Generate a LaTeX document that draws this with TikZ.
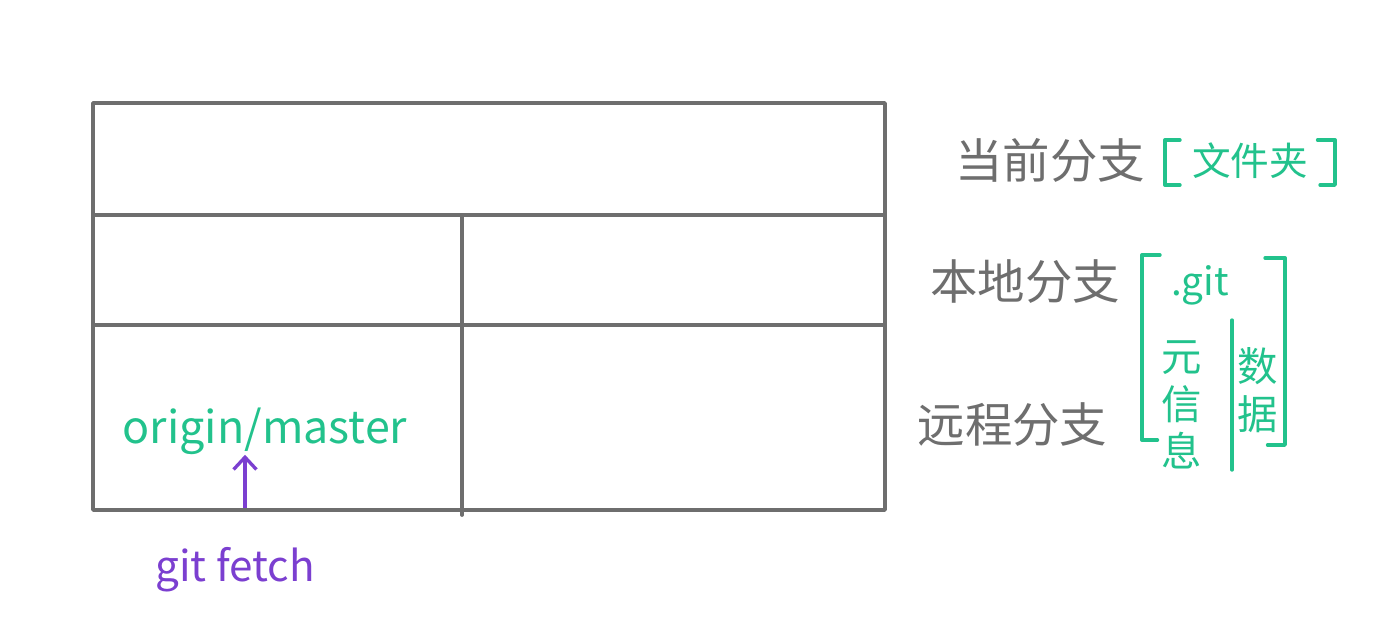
\documentclass[tikz,border=0pt]{standalone}
\usepackage{fontspec}
\setmainfont{Noto Sans CJK SC}
\usetikzlibrary{arrows.meta, positioning}
\definecolor{pen}{HTML}{6E6E6E}
\definecolor{mint}{HTML}{22C28C}
\definecolor{violet}{HTML}{7B3FD0}

\begin{document}
\begin{tikzpicture}[
    grid/.style={draw=pen, line width=2.1pt, line cap=round, line join=round},
    rowlabel/.style={text=pen, font=\fontsize{27}{30}\selectfont, inner sep=0pt},
    note/.style={text=mint, font=\fontsize{22}{24}\selectfont, inner sep=0pt, align=center},
    brk/.style={draw=mint, line width=1.9pt, line cap=round, line join=round},
    arr/.style={-{Straight Barb[length=7pt, width=13pt]}, draw=violet, line width=1.9pt}
]
\useasboundingbox (0,0) rectangle (27.58,-12.6);

% the table
\draw[grid] (1.86,-2.06) rectangle (17.7,-10.2);
\draw[grid] (1.86,-4.3) -- (17.7,-4.3);
\draw[grid] (1.86,-6.5) -- (17.7,-6.5);
\draw[grid] (9.24,-4.3) -- (9.24,-10.3);

% row labels
\node[rowlabel] (cur) at (21.0,-3.2) {当前分支};
\node[rowlabel] (local) at (20.5,-5.64) {本地分支};
\node[rowlabel] (remote) at (20.25,-8.5) {远程分支};

% working folder
\node[note] (folder) at (25.0,-3.22) {文件夹};
\draw[brk] (23.6,-2.8) -- (23.3,-2.8) -- (23.3,-3.7) -- (23.6,-3.7);
\draw[brk] (26.35,-2.8) -- (26.7,-2.8) -- (26.7,-3.7) -- (26.4,-3.7);

% .git folder
\node[note] (dotgit) at (24.0,-5.7) {.git};
\node[note, font=\fontsize{23}{27}\selectfont] (meta) at (23.64,-8.1) {元\\信\\息};
\node[note, font=\fontsize{23}{27}\selectfont] (data) at (25.16,-7.8) {数\\据};
\draw[brk] (23.2,-5.1) -- (22.84,-5.1) -- (22.84,-8.8) -- (23.15,-8.8);
\draw[brk] (25.3,-5.16) -- (25.7,-5.16) -- (25.7,-8.9) -- (25.35,-8.9);
\draw[brk] (24.64,-6.4) -- (24.64,-9.4);

% remote tracking branch
\node[note, font=\fontsize{25.5}{28}\selectfont] (origin) at (5.3,-8.62) {origin/master};
\node[note, text=violet, font=\fontsize{24}{26}\selectfont] (fetch) at (4.7,-11.4) {git fetch};
\coordinate (tail) at (4.9,-10.15);
\draw[arr] (tail) -- (tail |- origin.south);
\end{tikzpicture}
\end{document}
